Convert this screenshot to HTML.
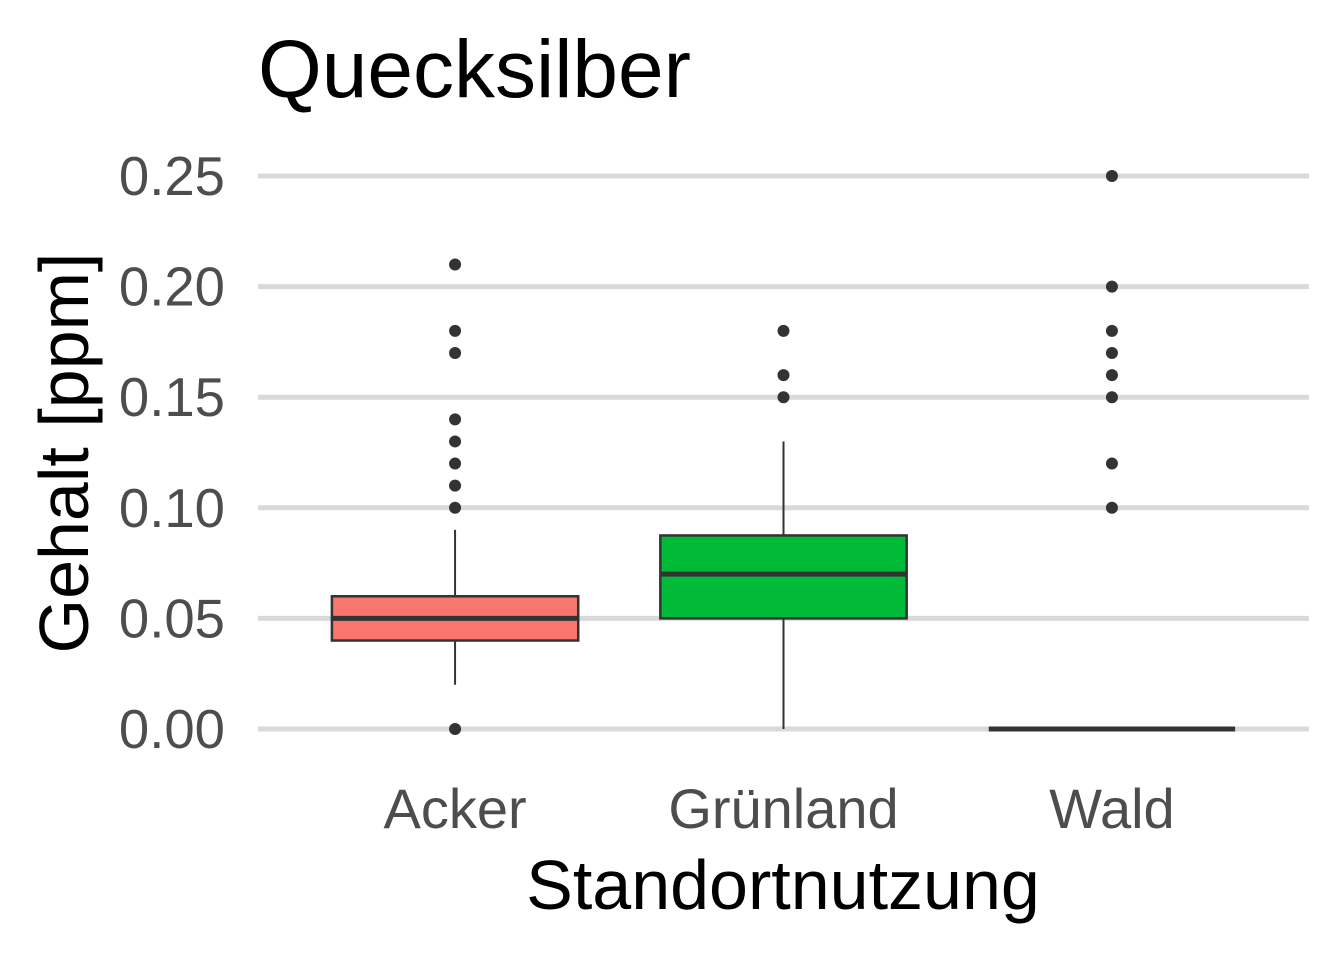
<!DOCTYPE html>
<html><head><meta charset="utf-8"><style>
html,body{margin:0;padding:0;background:#fff;}
svg{display:block;font-family:"Liberation Sans",sans-serif;}
</style></head><body>
<svg id="chart" width="1344" height="960" viewBox="0 0 1344 960" xmlns="http://www.w3.org/2000/svg">
<text x="258" y="97" font-size="82" fill="#000">Quecksilber</text>
<g id="grid"></g>
<g id="yticks"></g>
<g id="boxes"></g>
<g id="xticks"></g>
<text x="783" y="909" font-size="70" text-anchor="middle" fill="#000">Standortnutzung</text>
<text transform="translate(88,453) rotate(-90)" font-size="70" text-anchor="middle" fill="#000">Gehalt [ppm]</text>
</svg>
<script>
const categories = ["Acker","Grünland","Wald"];
const q1 = [0.04, 0.05, 0];
const median = [0.05, 0.07, 0];
const q3 = [0.06, 0.0875, 0];
const whiskerLow = [0.02, 0, 0];
const whiskerHigh = [0.09, 0.13, 0];
const outliers = [
  [0, 0.10, 0.11, 0.12, 0.13, 0.14, 0.17, 0.18, 0.21],
  [0.15, 0.16, 0.18],
  [0.10, 0.12, 0.15, 0.16, 0.17, 0.18, 0.20, 0.25]
];
const colors = ["#F8766D","#00BA38","#619CFF"];
const yTicks = [0, 0.05, 0.10, 0.15, 0.20, 0.25];
const yTickLabels = ["0.00","0.05","0.10","0.15","0.20","0.25"];

const NS = "http://www.w3.org/2000/svg";
const plotL = 258, plotR = 1309;
const y = v => 729 - v * (729 - 176) / 0.25;
const step = (plotR - plotL) / (categories.length + 0.2);
const x = i => plotL + step * 0.6 + step * i;
const boxW = step * 0.75;
function mk(tag, attrs, parent){const e=document.createElementNS(NS,tag);for(const k in attrs)e.setAttribute(k,attrs[k]);parent.appendChild(e);return e;}
const grid=document.getElementById('grid'), yt=document.getElementById('yticks'), bx=document.getElementById('boxes'), xt=document.getElementById('xticks');
yTicks.forEach((t,i)=>{
  const l=mk('line',{x1:plotL,x2:plotR,y1:y(t),y2:y(t),stroke:'#d9d9d9','stroke-width':5},grid);
  
  
  const tx=mk('text',{x:225,y:y(t)+19,'font-size':54.5,'text-anchor':'end',fill:'#4d4d4d'},yt);
  tx.textContent=yTickLabels[i];
  
  
});
categories.forEach((c,i)=>{
  const cx=x(i);
  const g=mk('g',{},bx);
  
  
  mk('line',{x1:cx,x2:cx,y1:y(whiskerLow[i]),y2:y(q1[i]),stroke:'#333','stroke-width':2},g);
  mk('line',{x1:cx,x2:cx,y1:y(q3[i]),y2:y(whiskerHigh[i]),stroke:'#333','stroke-width':2},g);
  mk('rect',{x:cx-boxW/2,y:y(q3[i]),width:boxW,height:Math.max(y(q1[i])-y(q3[i]),0),fill:colors[i],stroke:'#333','stroke-width':2.5},g);
  mk('line',{x1:cx-boxW/2,x2:cx+boxW/2,y1:y(median[i]),y2:y(median[i]),stroke:'#333','stroke-width':5},g);
  outliers[i].forEach(o=>{
    const p=mk('circle',{cx:cx,cy:y(o),r:6,fill:'#333'},g);
    
    
  });
  const tx=mk('text',{x:cx,y:828,'font-size':56,'text-anchor':'middle',fill:'#4d4d4d'},xt);
  tx.textContent=c;
  
  
});
</script>
</body></html>
